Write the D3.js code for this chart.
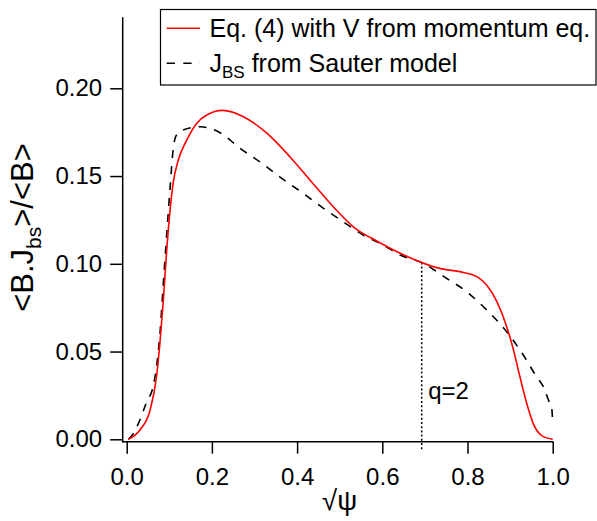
<!DOCTYPE html>
<html>
<head>
<meta charset="utf-8">
<script src="https://cdn.jsdelivr.net/npm/d3@7"></script>
<style>
  html, body { margin: 0; padding: 0; background: #fff; }
  svg { display: block; }
  text { font-family: "Liberation Sans", Arial, sans-serif; fill: #000; }
</style>
</head>
<body>
<script>
// Bootstrap current profile: momentum-equation result vs. Sauter model
const eqRho = [0.004, 0.031, 0.055, 0.070, 0.078, 0.086, 0.094, 0.102, 0.109, 0.121,
  0.141, 0.164, 0.188, 0.225, 0.274, 0.329, 0.383, 0.430, 0.485, 0.532, 0.590, 0.642,
  0.692, 0.735, 0.790, 0.822, 0.845, 0.869, 0.892, 0.908, 0.923, 0.939, 0.954, 0.978, 1.0];
const eqJbs = [0.0, 0.0053, 0.0167, 0.0357, 0.0547, 0.0794, 0.108, 0.131, 0.146, 0.159,
  0.1705, 0.180, 0.1848, 0.1874, 0.1838, 0.1744, 0.161, 0.1478, 0.1325, 0.1211, 0.1126, 0.106,
  0.1008, 0.0974, 0.0951, 0.0927, 0.0879, 0.0784, 0.0642, 0.0509, 0.0357, 0.0205, 0.0091, 0.0015, 0.0];

const sauterRho = [0.004, 0.016, 0.031, 0.047, 0.062, 0.070, 0.078, 0.086, 0.094, 0.102,
  0.109, 0.117, 0.141, 0.172, 0.219, 0.266, 0.317, 0.364, 0.415, 0.462, 0.508, 0.555,
  0.602, 0.642, 0.696, 0.751, 0.798, 0.845, 0.892, 0.931, 0.962, 0.978, 0.990, 0.998, 1.0];
const sauterJbs = [0.0, 0.0034, 0.011, 0.0214, 0.030, 0.0414, 0.060, 0.0889, 0.117, 0.144,
  0.165, 0.1734, 0.177, 0.1781, 0.1747, 0.1658, 0.1573, 0.1487, 0.140, 0.1316, 0.124, 0.1164,
  0.1107, 0.105, 0.1003, 0.0917, 0.0841, 0.0737, 0.0613, 0.048, 0.0357, 0.030, 0.0224, 0.017, 0.009];

const xTicks = [0.0, 0.2, 0.4, 0.6, 0.8, 1.0];
const yTicks = [0.00, 0.05, 0.10, 0.15, 0.20];
const qSurface = { rho: 0.6925, label: "q=2" };

const W = 597, H = 521;
const svg = d3.select("body").append("svg").attr("width", W).attr("height", H);

const x = d3.scaleLinear().domain([0, 1]).range([126.7, 552.7]);
const y = d3.scaleLinear().domain([0, 0.2]).range([439.3, 88.3]);

// Axis frame lines, offset from the data origin
const axisY = 441.7, axisX = 122.7, axisTop = 17.3;
svg.append("line").attr("x1", axisX).attr("x2", axisX).attr("y1", axisTop).attr("y2", axisY + 0.75)
  .attr("stroke", "#000").attr("stroke-width", 1.5);
svg.append("line").attr("x1", axisX - 0.75).attr("x2", x(1) + 0.75).attr("y1", axisY).attr("y2", axisY)
  .attr("stroke", "#000").attr("stroke-width", 1.5);

// Bottom axis ticks and labels
const gx = svg.append("g").attr("transform", `translate(0,${axisY})`)
  .call(d3.axisBottom(x).tickValues(xTicks).tickFormat(d3.format(".1f")).tickSize(12).tickSizeOuter(0).tickPadding(14));
gx.select(".domain").remove();
gx.selectAll(".tick line").attr("stroke", "#000").attr("stroke-width", 1.5);
gx.selectAll(".tick text").attr("font-size", 24).attr("font-family", "Liberation Sans, Arial, sans-serif");

// Left axis ticks and labels
const gy = svg.append("g").attr("transform", `translate(${axisX},0)`)
  .call(d3.axisLeft(y).tickValues(yTicks).tickFormat(d3.format(".2f")).tickSize(12.5).tickSizeOuter(0).tickPadding(8));
gy.select(".domain").remove();
gy.selectAll(".tick line").attr("stroke", "#000").attr("stroke-width", 1.5);
gy.selectAll(".tick text").attr("font-size", 24).attr("font-family", "Liberation Sans, Arial, sans-serif");

// q=2 rational surface marker
svg.append("line")
  .attr("x1", x(qSurface.rho)).attr("x2", x(qSurface.rho))
  .attr("y1", y(0.1008)).attr("y2", 450)
  .attr("stroke", "#000").attr("stroke-width", 1.5).attr("stroke-dasharray", "2,2.2");
svg.append("text").attr("x", x(qSurface.rho) + 6.5).attr("y", 399.3)
  .attr("font-size", 24).text(qSurface.label);

// Curves
const line = d3.line().x(d => x(d[0])).y(d => y(d[1])).curve(d3.curveMonotoneX);
const sauter = sauterRho.map((r, i) => [r, sauterJbs[i]]);
const eq = eqRho.map((r, i) => [r, eqJbs[i]]);

svg.append("path").datum(sauter).attr("d", line)
  .attr("fill", "none").attr("stroke", "#000").attr("stroke-width", 1.6)
  .attr("stroke-dasharray", "8,8");
svg.append("path").datum(eq).attr("d", line)
  .attr("fill", "none").attr("stroke", "#ff0000").attr("stroke-width", 1.6);

// Legend
const lg = svg.append("g");
lg.append("rect").attr("x", 160.5).attr("y", 9.5).attr("width", 435.5).attr("height", 75.5)
  .attr("fill", "#fff").attr("stroke", "#000").attr("stroke-width", 1.2);
lg.append("line").attr("x1", 166.7).attr("x2", 200).attr("y1", 28.3).attr("y2", 28.3)
  .attr("stroke", "#ff0000").attr("stroke-width", 1.6);
lg.append("text").attr("x", 209.5).attr("y", 36.5).attr("font-size", 25)
  .text("Eq. (4) with V from momentum eq.");
lg.append("line").attr("x1", 166.7).attr("x2", 200).attr("y1", 63.3).attr("y2", 63.3)
  .attr("stroke", "#000").attr("stroke-width", 1.6).attr("stroke-dasharray", "8.3,8.3");
const t2 = lg.append("text").attr("x", 209.5).attr("y", 71.5).attr("font-size", 25);
t2.append("tspan").text("J");
t2.append("tspan").attr("font-size", 17).attr("dy", 6).text("BS");
t2.append("tspan").attr("dy", -6).text(" from Sauter model");

// Axis titles
const yt = svg.append("text")
  .attr("transform", `translate(33.3,227.5) rotate(-90)`)
  .attr("text-anchor", "middle").attr("font-size", 31);
yt.append("tspan").text("<B.J");
yt.append("tspan").attr("font-size", 21).attr("dy", 8).text("bs");
yt.append("tspan").attr("dy", -8).text(">/<B>");

svg.append("text").attr("x", 339.5).attr("y", 510)
  .attr("text-anchor", "middle").attr("font-size", 28)
  .attr("font-family", "Liberation Serif, DejaVu Serif, serif")
  .text("√ψ");
</script>
</body>
</html>
